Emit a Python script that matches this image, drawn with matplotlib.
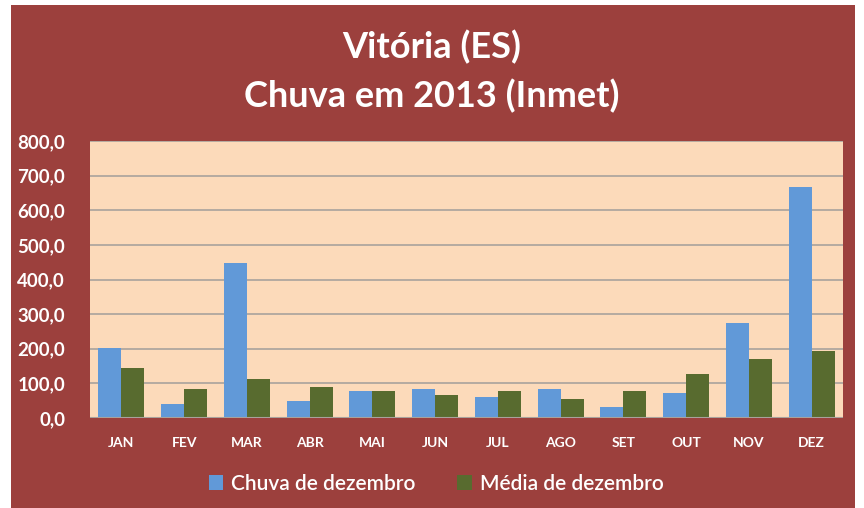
import numpy as np
import matplotlib.pyplot as plt
from matplotlib.patches import Rectangle

# dados (mm)
meses = ["JAN", "FEV", "MAR", "ABR", "MAI", "JUN", "JUL", "AGO", "SET", "OUT", "NOV", "DEZ"]
chuva = [201, 40, 449, 49, 77, 83, 61, 83, 33, 71, 275, 668]
media = [144, 83, 112, 89, 77, 66, 77, 54, 77, 126, 170, 193]
yticks = [0, 100, 200, 300, 400, 500, 600, 700, 800]

vermelho = "#9C403D"
fundo = "#FCDABA"
azul = "#6199D8"
verde = "#586B2F"

plt.rcParams["font.family"] = ["Lato", "DejaVu Sans"]

fig = plt.figure(figsize=(8.64, 5.08), dpi=100, facecolor="white")
fig.patches.append(Rectangle((11 / 864, 0), 844 / 864, 503 / 508,
                             transform=fig.transFigure, facecolor=vermelho,
                             edgecolor="none", zorder=-5))

ax = fig.add_axes([0.1042, 0.1772, 0.8715, 0.5452])
ax.set_facecolor(fundo)

x = np.arange(len(meses))
w = 0.365
ax.bar(x - w / 2, chuva, w, color=azul, label="Chuva de dezembro", zorder=3)
ax.bar(x + w / 2, media, w, color=verde, label="Média de dezembro", zorder=3)

ax.set_xlim(-0.5, len(meses) - 0.5)
ax.set_ylim(0, 800)
ax.set_yticks(yticks)
ax.set_yticklabels([f"{v},0" for v in yticks], color="white", fontsize=13.5, fontweight="bold")
ax.set_xticks(x)
ax.set_xticklabels(meses, color="white", fontsize=10, fontweight="bold")
ax.tick_params(axis="both", length=0)
ax.tick_params(axis="y", pad=18)
ax.tick_params(axis="x", pad=14)
ax.grid(axis="y", color="#A9A29C", linewidth=1.2, zorder=1)
for s in ax.spines.values():
    s.set_visible(False)
ax.axhline(0, color="#A9A29C", linewidth=1.5, zorder=4)

fig.text(0.5, 1 - 47 / 508, "Vitória (ES)", ha="center", va="center",
         color="white", fontsize=26, fontweight="bold")
fig.text(0.5, 1 - 96 / 508, "Chuva em 2013 (Inmet)", ha="center", va="center",
         color="white", fontsize=26, fontweight="bold")

leg = fig.legend(loc="center", bbox_to_anchor=(0.505, 1 - 484 / 508), ncol=2,
                 frameon=False, prop={"size": 15, "weight": "semibold"},
                 handlelength=0.7, handleheight=0.7,
                 handletextpad=0.4, columnspacing=2.0)
for t in leg.get_texts():
    t.set_color("white")

fig.savefig("out.png", dpi=100, facecolor=fig.get_facecolor())
